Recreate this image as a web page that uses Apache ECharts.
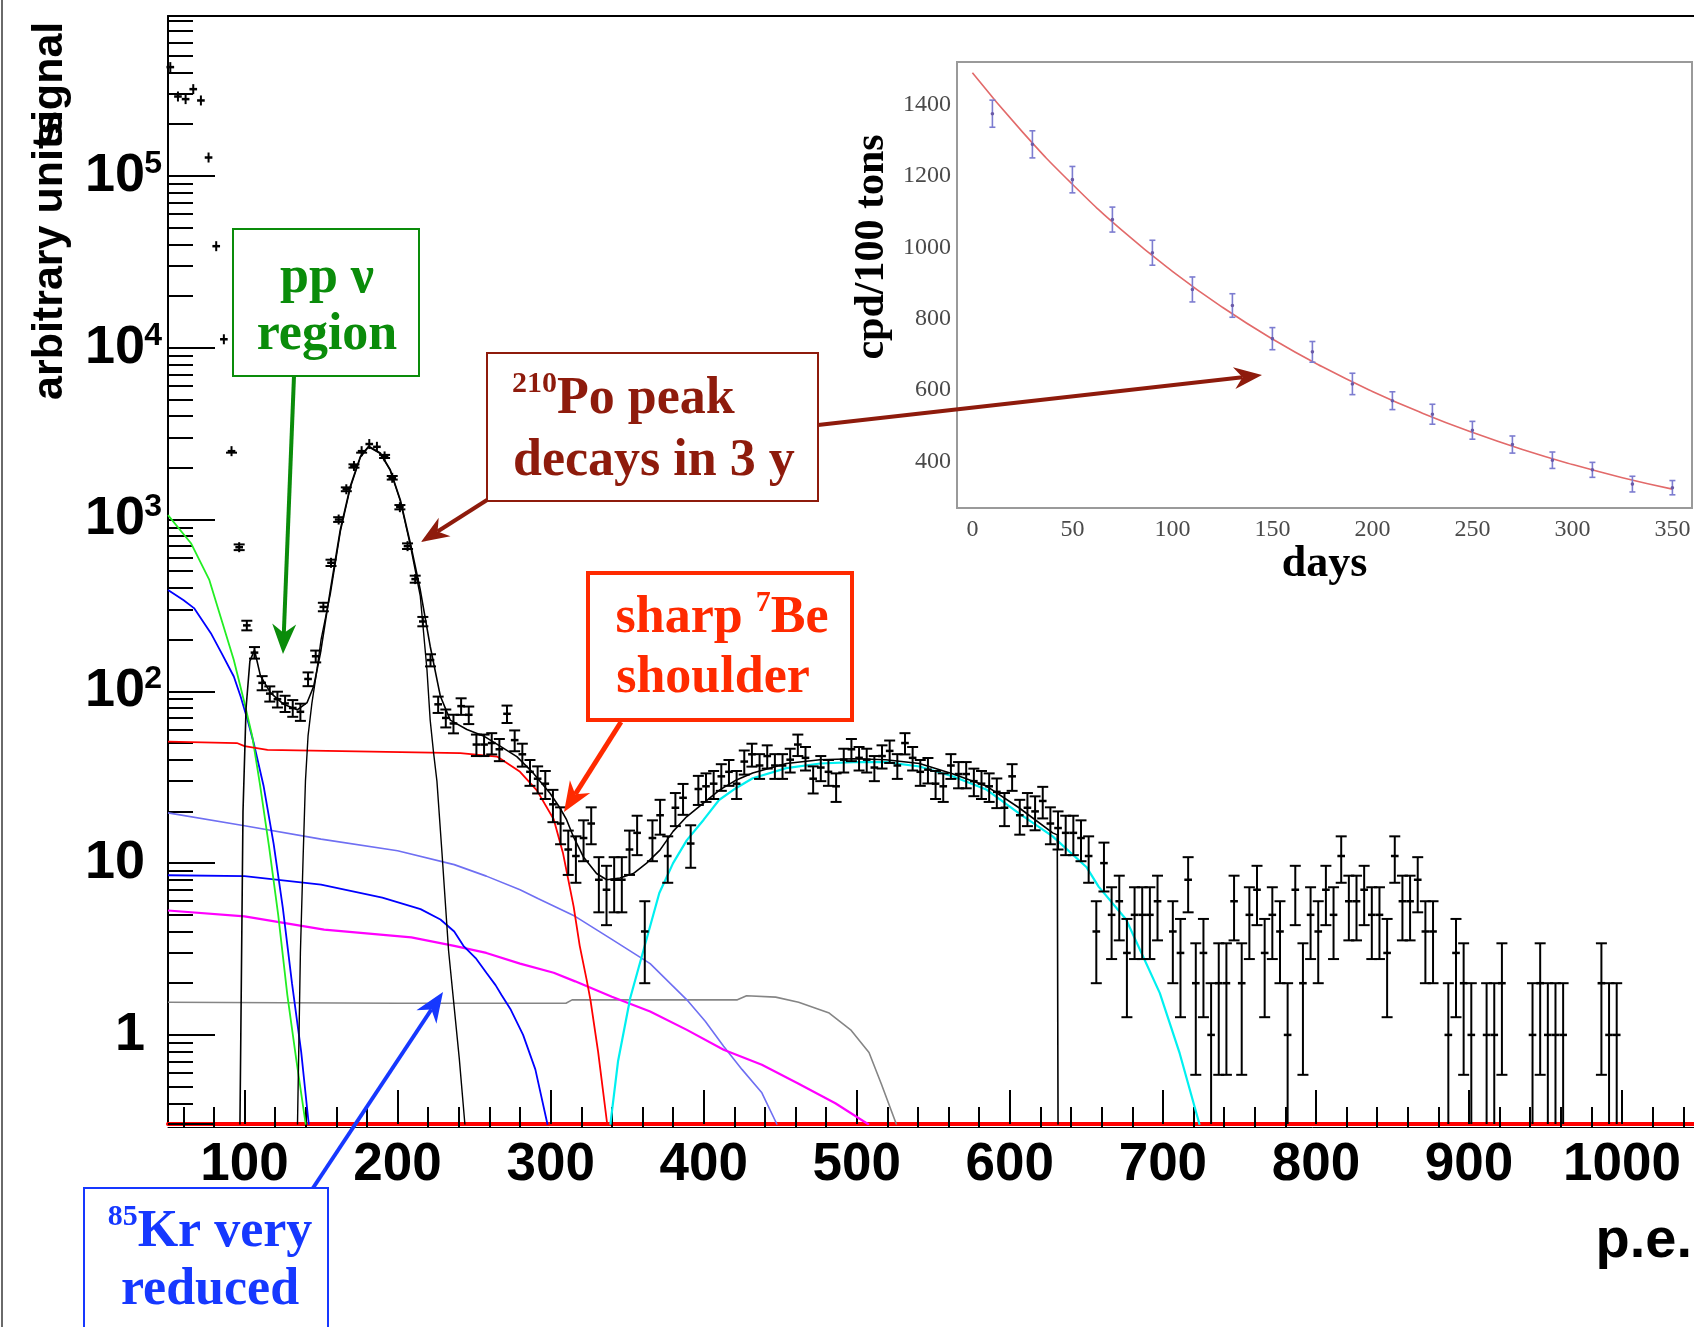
<!DOCTYPE html>
<html>
<head>
<meta charset="utf-8">
<title>Borexino spectrum</title>
<script src="https://cdn.jsdelivr.net/npm/echarts@6.0.0/dist/echarts.min.js"></script>
<style>
html, body { margin: 0; padding: 0; background: #fff; }
#chart { width: 1694px; height: 1327px; }
</style>
</head>
<body>
<div id="chart"></div>
<script>
// histogram: 5 p.e. bins (counts per bin)
var binStart = 49, binWidth = 5;
var counts = [
  430000, 290000, 280000, 320000, 275000, 128000, 39000, 11200, 2500, 690,
  242, 168, 112, 97, 90, 85, 80, 76, 118, 160,
  310, 560, 1000, 1500, 2050, 2500, 2750, 2650, 2330, 1750,
  1180, 700, 450, 255, 152, 84, 70, 65, 82, 73,
  49, 49, 50, 46, 74, 52, 43, 34, 31, 29,
  22, 17, 12, 11, 14, 17, 8, 7, 8, 8,
  12, 15, 4, 14, 19, 11, 21, 24, 13, 27,
  28, 29, 32, 34, 29, 39, 43, 37, 42, 37,
  37, 40, 49, 41, 31, 36, 34, 28, 40, 46,
  41, 40, 36, 42, 45, 37, 50, 41, 34, 35,
  29, 28, 37, 33, 33, 30, 29, 28, 26, 21,
  32, 19, 21, 20, 23, 17, 16, 15, 15, 14,
  11, 4, 10, 5, 6, 3, 5, 5, 5, 6,
  0, 4, 3, 8, 2, 3, 1, 2, 2, 6,
  2, 5, 7, 3, 5, 4, 1, 7, 2, 5,
  4, 7, 5, 11, 6, 6, 7, 5, 5, 3,
  11, 6, 6, 8, 4, 4, 0, 1, 3, 2,
  1, 0, 1, 1, 2, 0, 0, 0, 1, 2,
  1, 1, 1, 0, 0, 0, 0, 2, 1, 1,
  0, 0, 0, 0, 0, 0, 0, 0, 0
];

// fitted components, [p.e., value]
var fitTotal = [[97,0.3],[99,20],[101,80],[103.5,150],[106.5,174],[110.4,123],[117,98],[125.6,84],[134.4,78],[140.9,86],[145.2,107],[149.6,167],[156.1,391],[162.6,876],[169.1,1560],[175.7,2330],[181.1,2670],[188.7,2440],[195.2,1950],[201.8,1300],[208.3,730],[214.8,390],[221.3,183],[227.9,94],[234.4,68],[245.3,60],[256.1,55],[267,48],[277.9,41.7],[288.7,33.4],[299.6,25.5],[306,21],[310.4,17.9],[314.8,14.3],[321.3,10.9],[330,8.7],[336.6,8],[345.3,8.2],[354,8.7],[362.7,10],[371.4,11.9],[380,15.3],[388.8,18.6],[399.6,22.3],[410.5,26.7],[421.4,30.5],[432,33.5],[454,38],[476,40],[498,40.5],[519,40],[541,38],[563,33],[585,28],[606,21],[628,15],[631,14.6],[631.5,0.3]];
var poPeak = [[134.6,0.3],[136.5,3],[138.3,11],[139.8,30],[141.5,55],[144,85],[147.4,135],[150,200],[156.1,370],[162.6,850],[169.1,1530],[175.7,2300],[181.1,2650],[188.7,2420],[195.2,1930],[201.8,1280],[208.3,710],[214.8,360],[219.2,133],[221.3,68],[223.5,44],[225.7,30],[229,11.5],[233.3,3.1],[240.3,0.73],[244,0.3]];
var greenComp = [[50,1060],[65,728],[77,445],[85,260],[93,152],[99.5,89],[105,55],[110,29],[116,12.5],[122,5],[128,1.7],[134,0.7],[140,0.3]];
var blueComp = [[50,389],[60,340],[67,305],[78,218],[85,167],[93,122],[97.5,93],[102,68],[106,50],[112.5,28],[119,13],[125,5.5],[131,2],[137,0.8],[142,0.3]];
var krComp = [[50,8.5],[100,8.4],[150,7.5],[190,6.3],[215,5.4],[228,4.7],[237,4.0],[243,3.3],[251,2.8],[258,2.3],[264,1.95],[268,1.7],[274,1.4],[282,1.0],[290,0.63],[298,0.3]];
var violetComp = [[50,19.6],[100,16.5],[150,13.8],[200,11.8],[237,9.8],[258,8.4],[280,7.0],[292,6.2],[316,4.9],[340,3.6],[365,2.6],[389,1.6],[401,1.2],[413,0.86],[425,0.63],[438,0.46],[448,0.3]];
var magentaComp = [[50,5.3],[100,4.9],[152,4.1],[209,3.7],[237,3.3],[258,3.0],[280,2.6],[302,2.3],[316,2.05],[340,1.67],[365,1.37],[389,1.07],[413,0.82],[438,0.67],[462,0.52],[486,0.4],[508,0.3]];
var grayComp = [[50,1.55],[200,1.53],[310,1.53],[314,1.6],[422,1.6],[428,1.69],[447,1.66],[462,1.55],[482,1.34],[496,1.07],[508,0.79],[516,0.52],[526,0.3]];
var beComp = [[50,51],[95,50],[100,48],[115,45.6],[241,43.7],[265,41.7],[280,34],[291,26.5],[302,18],[308,11.5],[315,5.6],[319,3.3],[323.5,2.1],[326,1.6],[331,0.8],[337,0.3]];
var cyanComp = [[339,0.3],[344,0.7],[352,1.64],[363,3.7],[371,6.7],[380,10],[389,13.6],[400,17.9],[410,23.3],[421,27.3],[432,31.2],[454,35.7],[476,38],[498,38.7],[519,38.7],[541,36.5],[563,31.9],[585,26.7],[606,19.5],[628,14.3],[650,9.5],[658,7.3],[676,4.7],[698,1.75],[711,0.78],[724,0.3]];

var xTickLabels = [100, 200, 300, 400, 500, 600, 700, 800, 900, 1000];

// inset: 210Po rate vs time
var insetDays = [10, 30, 50, 70, 90, 110, 130, 150, 170, 190, 210, 230, 250, 270, 290, 310, 330, 350];
var insetRate = [1375, 1289, 1190, 1078, 985, 882, 837, 744, 707, 617, 570, 532, 487, 447, 403, 376, 336, 326];
var insetErr = [38, 38, 37, 35, 35, 35, 33, 31, 29, 30, 25, 28, 25, 24, 23, 21, 22, 20];
var insetFitDays = [0, 25, 50, 75, 100, 125, 150, 175, 200, 225, 250, 275, 300, 325, 350];
var insetFitRate = [1490, 1324, 1177, 1047, 933, 832, 743, 665, 596, 535, 481, 433, 391, 354, 322];
var insetXLabels = [0, 50, 100, 150, 200, 250, 300, 350];
var insetYLabels = [400, 600, 800, 1000, 1200, 1400];

var SANS_N = '"Liberation Sans Narrow", "Arial Narrow", "Liberation Sans", Arial, sans-serif';
var SANS = '"Liberation Sans", Arial, sans-serif';
var SERIF = '"Liberation Serif", "Times New Roman", serif';
var yMin = 0.303, yMax = 853000;

var histData = [];
counts.forEach(function (n, i) {
  if (n > 0) histData.push([binStart + binWidth * (i + 0.5), n]);
});

var minorX = [];
for (var v = 60; v <= 1040; v += 20) if (v % 100 !== 0) minorX.push(v);
var minorY = [];
for (var e = -1; e <= 5; e++) {
  for (var m = 2; m <= 9; m++) {
    var mv = +(m * Math.pow(10, e)).toPrecision(3);
    if (mv > yMin && mv < yMax) minorY.push(mv);
  }
}
var insetXMinor = [], insetYMinor = [];
for (var d = 10; d <= 350; d += 10) if (d % 50 !== 0) insetXMinor.push(d);
for (var r = 300; r <= 1500; r += 50) if (r % 200 !== 0) insetYMinor.push(r);

function plain(val) { return String(val); }

function seg(x1, y1, x2, y2, w) {
  return { type: 'line', shape: { x1: x1, y1: y1, x2: x2, y2: y2 }, style: { stroke: '#000', lineWidth: w || 2 } };
}

function renderHist(params, api) {
  var x = api.value(0), n = api.value(1);
  var err = Math.sqrt(n); // Poisson error bar of the bin count
  var c = api.coord([x, n]);
  var hi = api.coord([x, n + err])[1];
  var floorY = api.coord([x, yMin])[1];
  var lowOk = n - err > yMin;
  var lo = lowOk ? api.coord([x, n - err])[1] : floorY;
  var half = api.coord([x + binWidth / 2, n])[0] - c[0];
  var cap = 5.5;
  var kids = [];
  kids.push(seg(c[0], Math.min(hi, c[1] - 5), c[0], Math.max(lo, c[1] + 5)));
  if (hi < c[1] - 1.5) kids.push(seg(c[0] - cap, hi, c[0] + cap, hi));
  if (lowOk && lo > c[1] + 1.5) kids.push(seg(c[0] - cap, lo, c[0] + cap, lo));
  kids.push(seg(c[0] - half, c[1], c[0] + half, c[1], 2.5));
  return { type: 'group', children: kids };
}

function renderInset(params, api) {
  var x = api.value(0), y = api.value(1), er = api.value(2);
  var c = api.coord([x, y]);
  var t = api.coord([x, y + er])[1], b = api.coord([x, y - er])[1];
  var col = '#7c7cd0';
  var st = { stroke: col, lineWidth: 1.6 };
  return {
    type: 'group', children: [
      { type: 'line', shape: { x1: c[0], y1: t, x2: c[0], y2: b }, style: st },
      { type: 'line', shape: { x1: c[0] - 3, y1: t, x2: c[0] + 3, y2: t }, style: st },
      { type: 'line', shape: { x1: c[0] - 3, y1: b, x2: c[0] + 3, y2: b }, style: st },
      { type: 'circle', shape: { cx: c[0], cy: c[1], r: 1.8 }, style: { fill: '#6a5aa8' } }
    ]
  };
}

function curve(data, color, width) {
  return {
    type: 'line', xAxisIndex: 0, yAxisIndex: 0, data: data, showSymbol: false, symbol: 'none',
    lineStyle: { color: color, width: width }, z: 3, silent: true
  };
}

function arrow(x1, y1, x2, y2, color, w, hl, hw) {
  var dx = x2 - x1, dy = y2 - y1, L = Math.sqrt(dx * dx + dy * dy);
  var ux = dx / L, uy = dy / L;
  var bx = x2 - ux * hl, by = y2 - uy * hl;
  var nx = bx + ux * hl * 0.3, ny = by + uy * hl * 0.3;
  return [
    { type: 'line', z: 120, shape: { x1: x1, y1: y1, x2: nx, y2: ny }, style: { stroke: color, lineWidth: w } },
    { type: 'polygon', z: 121, shape: { points: [[x2, y2], [bx - uy * hw / 2, by + ux * hw / 2], [nx, ny], [bx + uy * hw / 2, by - ux * hw / 2]] }, style: { fill: color } }
  ];
}

function box(x, y, w, h, color, lw) {
  return { type: 'rect', z: 110, shape: { x: x, y: y, width: w, height: h }, style: { fill: '#fff', stroke: color, lineWidth: lw } };
}

function label(x, y, text, color, align) {
  return {
    type: 'text', z: 115, x: x, y: y,
    style: {
      text: text, fill: color, align: align || 'center', verticalAlign: 'middle',
      fontSize: 52, fontWeight: 'bold', fontFamily: SERIF,
      rich: {
        s: { fontSize: 30, fontWeight: 'bold', fontFamily: SERIF, fill: color, verticalAlign: 'top', lineHeight: 30 },
        b: { fontSize: 52, fontWeight: 'bold', fontFamily: SERIF, fill: color, lineHeight: 62 }
      }
    }
  };
}

function insetAxis(dim, pos, ticks, len, withLabels) {
  var ax = {
    type: 'value', gridIndex: 1, position: pos,
    min: dim === 'x' ? -7.7 : 269, max: dim === 'x' ? 359.8 : 1520,
    axisLine: { show: false }, splitLine: { show: false },
    axisTick: { inside: true, length: len, customValues: ticks, lineStyle: { color: '#8a8a8a', width: 1.5 } },
    axisLabel: { show: false }
  };
  if (withLabels) {
    ax.axisLabel = {
      show: true, customValues: ticks, formatter: plain, color: '#4a4a4a',
      fontFamily: SERIF, fontSize: 24, margin: dim === 'x' ? 10 : 6
    };
  }
  return ax;
}

var DARKRED = '#8e1b0c', GREEN = '#0a8c0a', RED = '#ff2a00', BLUE = '#1638ff';

var graphics = [
  { type: 'line', z: 50, shape: { x1: 2, y1: 0, x2: 2, y2: 1327 }, style: { stroke: '#6a6a6a', lineWidth: 2 } },
  { type: 'text', z: 60, x: 50, y: 400, rotation: Math.PI / 2,
    style: { text: 'arbitrary units', fill: '#000', fontSize: 43, fontWeight: 'bold', fontFamily: SANS, align: 'left', verticalAlign: 'middle' } },
  { type: 'text', z: 60, x: 50, y: 146, rotation: Math.PI / 2,
    style: { text: 'signal', fill: '#000', fontSize: 43, fontWeight: 'bold', fontFamily: SANS, align: 'left', verticalAlign: 'middle' } },
  { type: 'text', z: 60, x: 1692, y: 1242,
    style: { text: 'p.e.', fill: '#000', fontSize: 56, fontWeight: 'bold', fontFamily: SANS_N, align: 'right', verticalAlign: 'middle' } },

  box(233, 229, 186, 147, GREEN, 2),
  label(327, 279, 'pp ν', GREEN),
  label(327, 336, 'region', GREEN),

  box(487, 353, 331, 148, DARKRED, 2),
  label(512, 400, '{s|210}{b|Po peak}', DARKRED, 'left'),
  label(513, 462, 'decays in 3 y', DARKRED, 'left'),

  box(588, 573, 264, 147, RED, 4),
  label(722, 619, '{b|sharp }{s|7}{b|Be}', RED),
  label(713, 679, 'shoulder', RED),

  box(84, 1188, 244, 160, BLUE, 2),
  label(210, 1233, '{s|85}{b|Kr very}', BLUE),
  label(210, 1291, 'reduced', BLUE)
];
graphics = graphics
  .concat(arrow(294, 376, 283, 654, GREEN, 4, 30, 24))
  .concat(arrow(487, 500, 421, 542, DARKRED, 4, 28, 22))
  .concat(arrow(818, 425, 1262, 375, DARKRED, 4, 28, 22))
  .concat(arrow(621, 722, 564, 812, RED, 5, 30, 24))
  .concat(arrow(313, 1188, 443, 992, BLUE, 4, 30, 24));

var option = {
  animation: false,
  backgroundColor: '#fff',
  grid: [
    { left: 168, top: 16, right: -2, bottom: 203, show: false },
    { left: 957, top: 62, width: 735, height: 446, show: true, backgroundColor: '#fff', borderColor: '#9a9a9a', borderWidth: 2, z: 1 }
  ],
  xAxis: [
    {
      type: 'value', gridIndex: 0, position: 'bottom', min: 50, max: 1047,
      axisLine: { lineStyle: { color: '#ff0000', width: 4 } },
      axisTick: { inside: true, length: 34, customValues: xTickLabels, lineStyle: { color: '#000', width: 2 } },
      axisLabel: { customValues: xTickLabels, formatter: plain, color: '#000', fontSize: 53, fontWeight: 'bold', fontFamily: SANS_N, margin: 15 },
      splitLine: { show: false }
    },
    {
      type: 'value', gridIndex: 0, position: 'bottom', offset: 3, min: 50, max: 1047,
      axisLine: { show: true, lineStyle: { color: '#000', width: 1 } },
      axisTick: { inside: true, length: 20, customValues: minorX, lineStyle: { color: '#000', width: 2 } },
      axisLabel: { show: false }, splitLine: { show: false }
    },
    {
      type: 'value', gridIndex: 0, position: 'top', min: 50, max: 1047,
      axisLine: { show: true, lineStyle: { color: '#000', width: 2 } },
      axisTick: { show: false }, axisLabel: { show: false }, splitLine: { show: false }
    },
    Object.assign(insetAxis('x', 'bottom', insetXLabels, 9, true), {
      name: 'days', nameLocation: 'middle', nameGap: 30,
      nameTextStyle: { color: '#000', fontSize: 44, fontWeight: 'bold', fontFamily: SERIF }
    }),
    insetAxis('x', 'bottom', insetXMinor, 5, false),
    insetAxis('x', 'top', insetXLabels, 9, false),
    insetAxis('x', 'top', insetXMinor, 5, false)
  ],
  yAxis: [
    {
      type: 'log', logBase: 10, gridIndex: 0, position: 'left', min: yMin, max: yMax,
      axisLine: { show: true, lineStyle: { color: '#000', width: 2 } },
      axisTick: { show: true, inside: true, length: 47, lineStyle: { color: '#000', width: 2 } },
      minorTick: { show: false }, splitLine: { show: false },
      axisLabel: {
        margin: 6, color: '#000',
        formatter: function (val) {
          var lg = Math.log10(val), p = Math.round(lg);
          if (Math.abs(lg - p) > 1e-6 || p < 0) return '';
          if (p === 0) return '{b|1}{p|}';
          if (p === 1) return '{b|10}{p|}';
          return '{b|10}{e|' + p + '}';
        },
        rich: {
          b: { fontSize: 54, fontWeight: 'bold', fontFamily: SANS_N, color: '#000', lineHeight: 56 },
          e: { fontSize: 32, fontWeight: 'bold', fontFamily: SANS_N, color: '#000', verticalAlign: 'top', lineHeight: 32, width: 17 },
          p: { width: 17 }
        }
      }
    },
    {
      type: 'log', logBase: 10, gridIndex: 0, position: 'left', min: yMin, max: yMax,
      axisLine: { show: false },
      axisTick: { show: true, inside: true, length: 25, customValues: minorY, lineStyle: { color: '#000', width: 2 } },
      axisLabel: { show: false }, splitLine: { show: false }, minorTick: { show: false }
    },
    Object.assign(insetAxis('y', 'left', insetYLabels, 9, true), {
      name: 'cpd/100 tons', nameLocation: 'middle', nameRotate: 90, nameGap: 64,
      nameTextStyle: { color: '#000', fontSize: 42, fontWeight: 'bold', fontFamily: SERIF, padding: [0, 0, 0, 76] }
    }),
    insetAxis('y', 'left', insetYMinor, 5, false),
    insetAxis('y', 'right', insetYLabels, 9, false),
    insetAxis('y', 'right', insetYMinor, 5, false)
  ],
  series: [
    curve(grayComp, '#858585', 1.6),
    curve(violetComp, '#6f6ff2', 1.6),
    curve(magentaComp, '#ff00ff', 2.2),
    curve(krComp, '#0000ff', 1.8),
    curve(blueComp, '#0000ff', 1.8),
    curve(greenComp, '#22ee22', 1.8),
    curve(beComp, '#ff0000', 1.8),
    curve(cyanComp, '#00f0f0', 2.2),
    curve(poPeak, '#000', 1.4),
    curve(fitTotal, '#000', 1.6),
    {
      type: 'custom', xAxisIndex: 0, yAxisIndex: 0, data: histData, renderItem: renderHist,
      encode: { x: 0, y: 1 }, clip: false, z: 5, silent: true
    },
    {
      type: 'line', xAxisIndex: 3, yAxisIndex: 2, smooth: true, showSymbol: false, symbol: 'none',
      data: insetFitDays.map(function (d, i) { return [d, insetFitRate[i]]; }),
      lineStyle: { color: '#e26a6a', width: 1.6 }, z: 6, silent: true
    },
    {
      type: 'custom', xAxisIndex: 3, yAxisIndex: 2, renderItem: renderInset,
      data: insetDays.map(function (d, i) { return [d, insetRate[i], insetErr[i]]; }),
      encode: { x: 0, y: 1 }, z: 7, silent: true
    }
  ],
  graphic: graphics
};

var chart = echarts.init(document.getElementById('chart'), null, { renderer: 'canvas' });
chart.setOption(option);
window.addEventListener('resize', function () { chart.resize(); });
</script>
</body>
</html>
